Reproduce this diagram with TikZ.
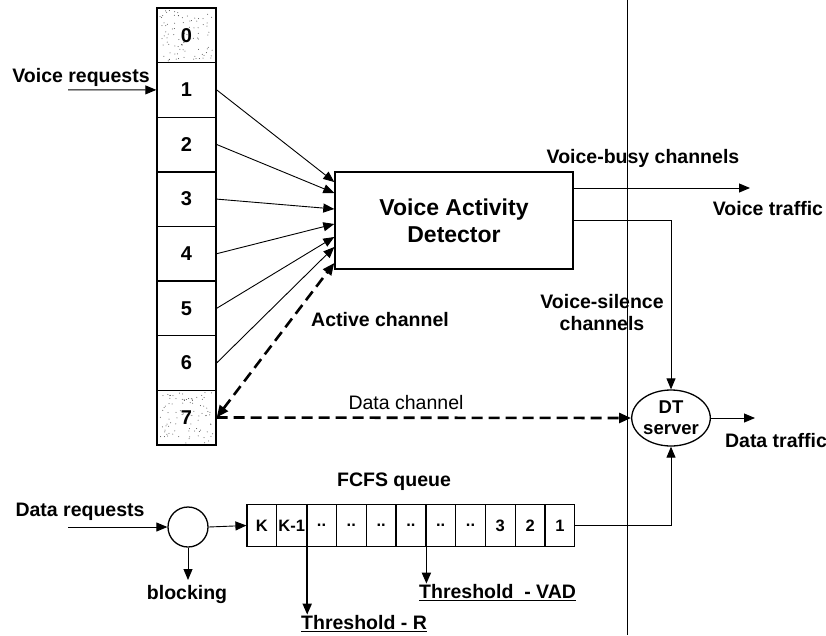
\documentclass[tikz,border=0pt]{standalone}
\usepackage{fontspec}
\setmainfont{Liberation Sans}
\usetikzlibrary{arrows.meta,shapes.geometric,calc}
\newcommand\qdots{..}
\begin{document}
\begin{tikzpicture}[x=1pt,y=-1pt,
  lab/.style={font=\fontsize{19.5}{22}\selectfont\bfseries, inner sep=1pt},
  labreg/.style={font=\fontsize{19.5}{22}\selectfont, inner sep=1pt},
  cellbox/.style={draw, line width=1.4pt, minimum width=59pt, minimum height=54.6pt, inner sep=0pt, font=\fontsize{20}{22}\selectfont\bfseries},
  qcell/.style={draw, line width=1.2pt, minimum width=29.8pt, minimum height=42pt, inner sep=0pt, font=\fontsize{16.5}{18}\selectfont\bfseries},
  arr/.style={line width=0.9pt, -{Triangle[length=11pt,width=9pt]}},
  thr/.style={line width=1.8pt, -{Triangle[length=11pt,width=9pt]}},
  dashline/.style={line width=2.6pt, dash pattern=on 11pt off 6pt, -{Triangle[length=12pt,width=10pt]}},
  darr/.style={line width=2.6pt, dash pattern=on 11pt off 6pt, {Triangle[length=12pt,width=10pt]}-{Triangle[length=12pt,width=10pt]}},
  speck/.style={fill=black!70}
]
\fill[white] (0,0) rectangle (826,635);
\useasboundingbox (0,0) rectangle (826,635);

% divider line
\coordinate (divT) at (627,0);
\coordinate (divB) at (627,635);
\draw[line width=0.8pt] (divT) -- (divB);

% speckle texture of cells 0 and 7
\pgfmathsetseed{7}
\foreach \k in {1,...,90} {\fill[speck] ({160+rnd*53},{10+rnd*51}) circle (0.5pt);}
\foreach \k in {1,...,90} {\fill[speck] ({160+rnd*53},{392+rnd*51}) circle (0.5pt);}

% channel column
\foreach \i in {0,...,7} {
  \node[cellbox] (c\i) at (186.5,{8+54.6*\i+27.3}) {\i};
}

% voice requests
\node[lab] (vreq) at (81,77) {Voice requests};
\coordinate (vreqs) at (68,89.9);
\draw[arr] (vreqs) -- (c1.west);

% VAD
\node[draw, line width=1.4pt, minimum width=238pt, minimum height=97pt, align=center,
      font=\fontsize{23}{27}\selectfont\bfseries] (vad) at (454,220.5) {Voice Activity\\Detector};

\draw[arr] (c1.east) -- ([yshift=38.5pt]vad.west);
\draw[arr] (c2.east) -- ([yshift=27.5pt]vad.west);
\draw[arr] (c3.east) -- ([yshift=11.5pt]vad.west);
\draw[arr] (c4.east) -- ([yshift=-3.5pt]vad.west);
\draw[arr] (c5.east) -- ([yshift=-16.5pt]vad.west);
\draw[arr] (c6.east) -- ([yshift=-26.5pt]vad.west);
\draw[darr] (c7.east) -- ([yshift=-42.5pt]vad.west);

\node[lab] (actc) at (380,320) {Active channel};

% DT server
\node[ellipse, draw, line width=1.3pt, minimum width=72pt, minimum height=56pt, inner sep=0pt,
      align=center, font=\fontsize{18.5}{21}\selectfont\bfseries] (dt) at (671,418) {DT\\server};

% voice busy
\coordinate (vbusy) at (750,188);
\draw[arr] ([yshift=32.5pt]vad.east) -- (vbusy);
\node[lab] (vbl) at (643,158) {Voice-busy channels};
\node[lab] (vtr) at (768,209) {Voice traffic};

% voice silence
\draw[arr] (vad.east) -| (dt.north);
\node[lab, align=center] (vsl) at (602,313) {Voice-silence\\channels};

% data channel
\draw[dashline] (c7.east) -- (dt.west);
\node[labreg] (dcl) at (406,403) {Data channel};

% data traffic
\coordinate (dtr) at (755,418);
\draw[arr] (dt.east) -- (dtr);
\node[lab] (dtl) at (776,441) {Data traffic};

% FCFS queue
\foreach \t [count=\j] in {K,K-1,\qdots,\qdots,\qdots,\qdots,\qdots,\qdots,3,2,1} {
  \node[qcell] (q\j) at ({247+29.8*(\j-0.5)},525.5) {\t};
}
\node[lab] (fcfs) at (394,482) {FCFS queue};
\draw[arr] (q11.east) -| (dt.south);

% data requests
\node[circle, draw, line width=1.3pt, minimum size=40pt, inner sep=0pt] (circ) at (188,527) {};
\node[lab] (dreql) at (80,512) {Data requests};
\coordinate (dreq) at (68,527);
\draw[arr] (dreq) -- (circ.west);
\draw[arr] (circ.east) -- (q1.west);
\coordinate (blk) at (188,580);
\draw[arr] (circ.south) -- (blk);
\node[lab] (blkl) at (187,594) {blocking};

% thresholds
\node[lab, anchor=west] (tR) at (300,624) {\underline{Threshold - R}};
\draw[thr] (q2.north east) -- (q2.north east |- tR.north);
\node[lab, anchor=west] (tV) at (418,593) {\underline{Threshold\ \ - VAD}};
\draw[thr] (q6.north east) -- (q6.north east |- tV.north);
\end{tikzpicture}
\end{document}
